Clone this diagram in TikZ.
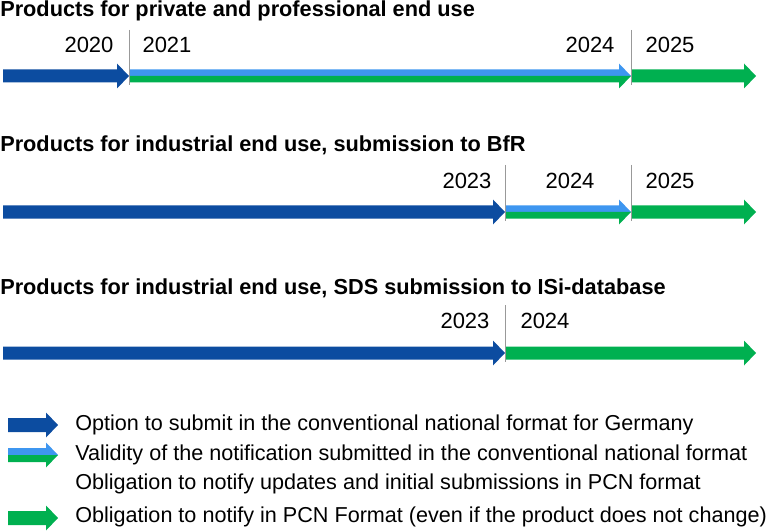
\documentclass[tikz,border=0pt]{standalone}
\usepackage{fontspec}
\setmainfont{Liberation Sans}
\definecolor{dblue}{RGB}{12,76,160}
\definecolor{lblue}{RGB}{62,150,240}
\definecolor{pgreen}{RGB}{0,176,80}
\newcommand\solidarrow[5]{% x1, x2, y, half shaft, color
  \fill[#5] (#1,#3-#4) -- (#2-12,#3-#4) -- (#2-12,#3-12.5) -- (#2,#3) -- (#2-12,#3+12.5) -- (#2-12,#3+#4) -- (#1,#3+#4) -- cycle;}
\newcommand\splitarrow[4]{% x1, x2, y, half shaft
  \fill[lblue] (#1,#3-#4) -- (#2-12,#3-#4) -- (#2-12,#3-12.5) -- (#2,#3) -- (#1,#3) -- cycle;
  \fill[pgreen] (#1,#3+#4) -- (#2-12,#3+#4) -- (#2-12,#3+12.5) -- (#2,#3) -- (#1,#3) -- cycle;}
\tikzset{
  title/.style={anchor=west, inner sep=0pt, font=\fontsize{16.3}{19}\selectfont\bfseries},
  year/.style={inner sep=0pt, font=\fontsize{16.5}{19}\selectfont},
  legend/.style={anchor=west, inner sep=0pt, font=\fontsize{16.2}{19}\selectfont},
  tick/.style={draw=gray!80, line width=0.6pt}
}
\begin{document}
\begin{tikzpicture}[x=0.75pt,y=-0.75pt]
\useasboundingbox (0,0) rectangle (771,531);
% Row 1
\node[title] (t1) at (0,11) {Products for private and professional end use};
\solidarrow{3}{129}{76}{6.5}{dblue}
\splitarrow{129}{631}{76}{6.5}
\solidarrow{631}{756}{76}{6.5}{pgreen}
\draw[tick] (129,30) -- (129,85);
\draw[tick] (631,30) -- (631,85);
\node[year] (y2020) at (89,45) {2020};
\node[year] (y2021) at (167,45) {2021};
\node[year] (y2024a) at (590,45) {2024};
\node[year] (y2025a) at (670,45) {2025};
% Row 2
\node[title] (t2) at (0,145) {Products for industrial end use, submission to BfR};
\solidarrow{3}{505}{212}{6.5}{dblue}
\splitarrow{505}{631}{212}{6.5}
\solidarrow{631}{756}{212}{6.5}{pgreen}
\draw[tick] (505,165) -- (505,221);
\draw[tick] (631,165) -- (631,221);
\node[year] (y2023b) at (467,181) {2023};
\node[year] (y2024b) at (570,181) {2024};
\node[year] (y2025b) at (670,181) {2025};
% Row 3
\node[title] (t3) at (0,288) {Products for industrial end use, SDS submission to ISi-database};
\solidarrow{3}{505}{353}{6.5}{dblue}
\solidarrow{505}{756}{353}{6.5}{pgreen}
\draw[tick] (505,305) -- (505,362);
\node[year] (y2023c) at (465,321) {2023};
\node[year] (y2024c) at (545,321) {2024};
% Legend
\solidarrow{8}{58}{425}{7}{dblue}
\splitarrow{8}{58}{455}{7}
\solidarrow{8}{58}{518}{7}{pgreen}
\node[legend] (l1) at (75,425) {Option to submit in the conventional national format for Germany};
\node[legend] (l2) at (75,455) {Validity of the notification submitted in the conventional national format};
\node[legend] (l3) at (75,484) {Obligation to notify updates and initial submissions in PCN format};
\node[legend] (l4) at (75,517) {Obligation to notify in PCN Format (even if the product does not change)};
\end{tikzpicture}
\end{document}
